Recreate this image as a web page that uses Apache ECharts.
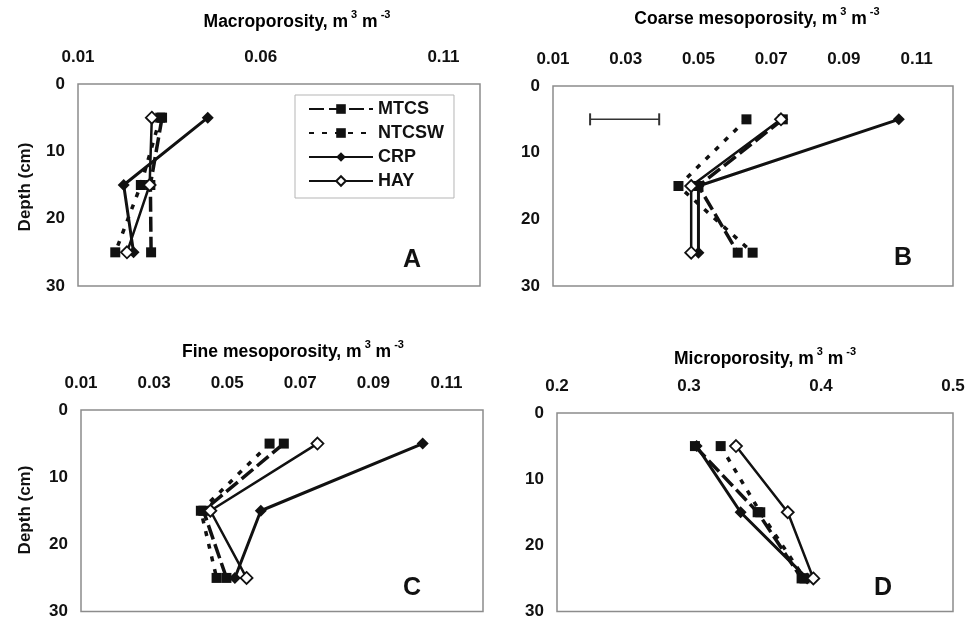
<!DOCTYPE html>
<html>
<head>
<meta charset="utf-8">
<script src="https://cdn.jsdelivr.net/npm/echarts@6/dist/echarts.min.js"></script>
<style>html,body{margin:0;padding:0;background:#fff}#c{width:977px;height:620px}</style>
</head>
<body>
<div id="c"></div>
<script>
// ---------- data ----------
const depths = [5, 15, 25];
const seriesNames = ['MTCS', 'NTCSW', 'CRP', 'HAY'];

// Panel A: Macroporosity
const macroMTCS  = [0.0330, 0.0298, 0.0300];
const macroNTCSW = [0.0325, 0.0272, 0.0202];
const macroCRP   = [0.0455, 0.0225, 0.0252];
const macroHAY   = [0.0302, 0.0296, 0.0234];

// Panel B: Coarse mesoporosity
const coarseMTCS  = [0.0732, 0.0500, 0.0608];
const coarseNTCSW = [0.0632, 0.0445, 0.0649];
const coarseCRP   = [0.1051, 0.0500, 0.0500];
const coarseHAY   = [0.0727, 0.0480, 0.0480];
const coarseErrBar = [0.0202, 0.0392];   // horizontal bar drawn at depth 5
const coarseErrDepth = 5;

// Panel C: Fine mesoporosity
const fineMTCS  = [0.0655, 0.0435, 0.0498];
const fineNTCSW = [0.0616, 0.0428, 0.0471];
const fineCRP   = [0.1035, 0.0592, 0.0521];
const fineHAY   = [0.0747, 0.0454, 0.0553];

// Panel D: Microporosity
const microMTCS  = [0.3045, 0.3520, 0.3853];
const microNTCSW = [0.3240, 0.3540, 0.3875];
const microCRP   = [0.3058, 0.3391, 0.3895];
const microHAY   = [0.3356, 0.3748, 0.3942];

// tick labels
const ticksA = [0.01, 0.06, 0.11];
const ticksBC = [0.01, 0.03, 0.05, 0.07, 0.09, 0.11];
const ticksD = [0.2, 0.3, 0.4, 0.5];
const depthTicks = [0, 10, 20, 30];

const titles = ['Macroporosity, m', 'Coarse mesoporosity, m', 'Fine mesoporosity, m', 'Microporosity, m'];
const panelLetters = ['A', 'B', 'C', 'D'];
const yName = 'Depth (cm)';

// ---------- layout / style ----------
const FONT = '"Liberation Sans", Arial, Helvetica, sans-serif';
const INK = '#111';
const grids = [
  {left: 78,  top: 84,  width: 402, height: 202},
  {left: 553, top: 86,  width: 400, height: 200},
  {left: 81,  top: 410, width: 402, height: 204},
  {left: 557, top: 413, width: 396, height: 203}
];
const xRanges = [
  {min: 0.01, max: 0.12, ticks: ticksA},
  {min: 0.01, max: 0.12, ticks: ticksBC},
  {min: 0.01, max: 0.12, ticks: ticksBC},
  {min: 0.2,  max: 0.5,  ticks: ticksD}
];
const panelData = [
  [macroMTCS, macroNTCSW, macroCRP, macroHAY],
  [coarseMTCS, coarseNTCSW, coarseCRP, coarseHAY],
  [fineMTCS, fineNTCSW, fineCRP, fineHAY],
  [microMTCS, microNTCSW, microCRP, microHAY]
];
const titlePos = [[297, 20], [757, 17], [293, 350], [765, 357]];
const letterPos = [[412, 260], [903, 258], [412, 588], [883, 588]];
const yNamePos = [[25, 187], null, [25, 510], null];

const seriesStyle = {
  MTCS:  {symbol: 'rect', symbolSize: 10, line: {type: [15, 5], width: 3.5}, item: {color: INK}},
  NTCSW: {symbol: 'rect', symbolSize: 10, line: {type: [5, 8], width: 3.5}, item: {color: INK}},
  CRP:   {symbol: 'diamond', symbolSize: 12, line: {type: 'solid', width: 3}, item: {color: INK}},
  HAY:   {symbol: 'diamond', symbolSize: 12, line: {type: 'solid', width: 2.5}, item: {color: '#fff', borderColor: INK, borderWidth: 1.8}}
};

const xAxes = grids.map((g, i) => ({
  gridIndex: i, type: 'value', position: 'top',
  min: xRanges[i].min, max: xRanges[i].max,
  axisLine: {show: false}, axisTick: {show: false}, splitLine: {show: false},
  axisLabel: {customValues: xRanges[i].ticks, margin: 18, color: INK, fontFamily: FONT, fontWeight: 'bold', fontSize: 17}
}));
const yAxes = grids.map((g, i) => ({
  gridIndex: i, type: 'value', inverse: true, min: 0, max: 30, interval: 10,
  axisLine: {show: false}, axisTick: {show: false}, splitLine: {show: false},
  axisLabel: {customValues: depthTicks, margin: 13, color: INK, fontFamily: FONT, fontWeight: 'bold', fontSize: 17}
}));

const series = [];
panelData.forEach((arrs, i) => {
  arrs.forEach((vals, k) => {
    const nm = seriesNames[k];
    const st = seriesStyle[nm];
    series.push({
      name: nm, type: 'line', xAxisIndex: i, yAxisIndex: i,
      data: depths.map((d, j) => [vals[j], d]),
      symbol: st.symbol, symbolSize: st.symbolSize, showSymbol: true,
      lineStyle: Object.assign({color: INK}, st.line),
      itemStyle: st.item,
      z: 2 + k, silent: true, animation: false
    });
  });
});
series.push({
  name: 'errbar', type: 'line', xAxisIndex: 1, yAxisIndex: 1,
  data: coarseErrBar.map(v => [v, coarseErrDepth]),
  symbol: 'rect', symbolSize: [2, 12],
  lineStyle: {color: '#333', width: 1.5}, itemStyle: {color: '#333'},
  silent: true, animation: false
});

const rich = {
  a: {fontFamily: FONT, fontWeight: 'bold', fontSize: 17.5, color: INK, lineHeight: 22, verticalAlign: 'bottom'},
  s: {fontFamily: FONT, fontWeight: 'bold', fontSize: 11, color: INK, lineHeight: 22, verticalAlign: 'top', padding: [0, 0, 0, 3]}
};
const graphics = [];
titles.forEach((t, i) => {
  graphics.push({type: 'text', x: titlePos[i][0], y: titlePos[i][1], silent: true,
    style: {text: '{a|' + t + '}{s|3}{a| m}{s|-3}', rich: rich, align: 'center', verticalAlign: 'middle'}});
  graphics.push({type: 'text', x: letterPos[i][0], y: letterPos[i][1], silent: true,
    style: {text: panelLetters[i], font: 'bold 25px ' + FONT, fill: INK, align: 'center', verticalAlign: 'middle'}});
  if (yNamePos[i]) {
    graphics.push({type: 'text', x: yNamePos[i][0], y: yNamePos[i][1], rotation: Math.PI / 2, silent: true,
      style: {text: yName, font: 'bold 17px ' + FONT, fill: INK, align: 'center', verticalAlign: 'middle'}});
  }
});

const chart = echarts.init(document.getElementById('c'), null, {renderer: 'canvas'});
chart.setOption({
  animation: false,
  backgroundColor: '#fff',
  grid: grids.map(g => Object.assign({show: true, borderColor: '#8c8c8c', borderWidth: 1.5, backgroundColor: 'transparent', containLabel: false}, g)),
  xAxis: xAxes,
  yAxis: yAxes,
  legend: {
    data: seriesNames, orient: 'vertical', left: 295, top: 95,
    itemWidth: 64, itemHeight: 12, itemGap: 6, padding: [5, 10, 8, 13],
    borderColor: '#b5b5b5', borderWidth: 1, backgroundColor: '#fff',
    selectedMode: false,
    textStyle: {fontFamily: FONT, fontWeight: 'bold', fontSize: 18, color: INK}
  },
  series: series,
  graphic: graphics
});
</script>
</body>
</html>
